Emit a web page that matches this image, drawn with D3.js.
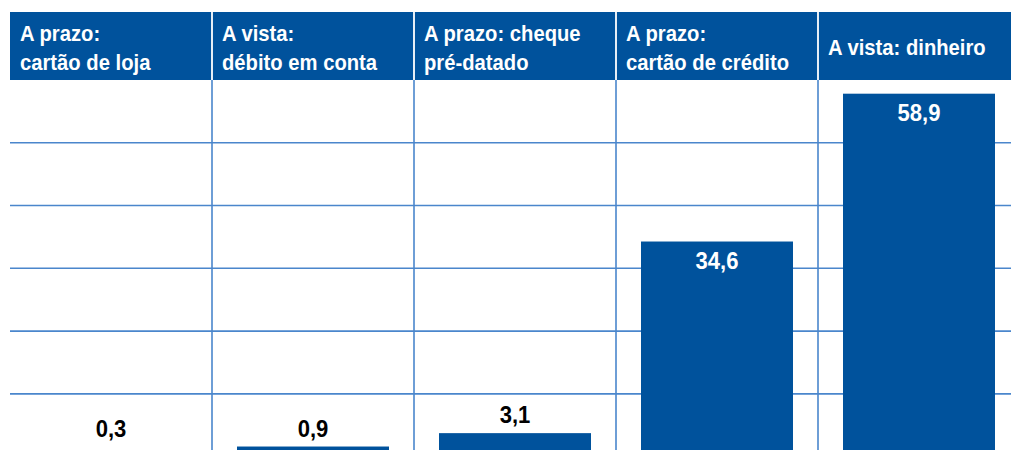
<!DOCTYPE html>
<html><head><meta charset="utf-8">
<script src="https://cdn.jsdelivr.net/npm/d3@7"></script>
<style>
html,body{margin:0;padding:0;background:#fff;}
svg{display:block;}
text{font-family:"Liberation Sans","Arial",sans-serif;font-weight:bold;}
</style></head>
<body>
<svg id="chart" width="1011" height="450"></svg>
<script>
const categories = ["A prazo:\ncartão de loja", "A vista:\ndébito em conta", "A prazo: cheque\npré-datado", "A prazo:\ncartão de crédito", "A vista: dinheiro"];
const values = [0.3, 0.9, 3.1, 34.6, 58.9];
const gridRows = [1, 2, 3, 4, 5];

const W = 1011, H = 450;
const left = 10, right = 1020;
const headTop = 12, headBottom = 80;
const blue = "#00529c", gridBlue = "#4a86cc";
const squeeze = 0.92;

const svg = d3.select("#chart");
const locale = d3.formatLocale({decimal: ",", thousands: ".", grouping: [3], currency: ["", ""]});
const fmt = locale.format(".1f");

const xCol = d3.scaleBand().domain(categories).range([left, right]);
const xBar = d3.scaleBand().domain(categories).range([left, right]).paddingInner(50/202).paddingOuter(25/202);
const y = d3.scaleLinear().domain([0, 60]).range([452, 87]);
const rows = d3.scaleLinear().domain([0, 6]).range([79.9, 456.7]);

// header
svg.append("rect").attr("x", left).attr("y", headTop).attr("width", right - left).attr("height", headBottom - headTop).attr("fill", blue);

// horizontal grid
svg.append("g").selectAll("line").data(gridRows).join("line")
  .attr("x1", left).attr("x2", W)
  .attr("y1", d => rows(d)).attr("y2", d => rows(d))
  .attr("stroke", gridBlue).attr("stroke-width", 1.6);

// vertical separators (plot)
svg.append("g").selectAll("line").data(categories.slice(1)).join("line")
  .attr("x1", d => xCol(d)).attr("x2", d => xCol(d))
  .attr("y1", headBottom).attr("y2", H)
  .attr("stroke", gridBlue).attr("stroke-width", 1.6);
// vertical separators (header)
svg.append("g").selectAll("line").data(categories.slice(1)).join("line")
  .attr("x1", d => xCol(d)).attr("x2", d => xCol(d))
  .attr("y1", headTop).attr("y2", headBottom)
  .attr("stroke", "#fff").attr("stroke-width", 1.8);

// header text
svg.append("g").selectAll("g").data(categories).join("g")
  .each(function(d){
    const lines = d.split("\n");
    const y0 = lines.length === 1 ? 55 : 41;
    lines.forEach((l, i) => d3.select(this).append("text")
      .attr("transform", `translate(${xCol(d) + 10},${y0 + i * 29}) scale(${squeeze},1)`)
      .attr("fill", "#fff").attr("font-size", 22)
      .text(l));
  });

// bars
const data = categories.map((c, i) => ({c, v: values[i]}));
svg.append("g").selectAll("rect").data(data).join("rect")
  .attr("x", d => xBar(d.c)).attr("width", xBar.bandwidth())
  .attr("y", d => y(d.v)).attr("height", d => Math.max(0, y(0) - y(d.v)))
  .attr("fill", blue);

// value labels
svg.append("g").selectAll("text").data(data).join("text")
  .attr("transform", d => {
    const tx = xBar(d.c) + xBar.bandwidth() / 2;
    const ty = d.v > 10 ? y(d.v) + 27 : Math.min(y(d.v), 447) - 10;
    return `translate(${tx},${ty}) scale(${squeeze},1)`;
  })
  .attr("text-anchor", "middle")
  .attr("font-size", 24)
  .attr("fill", d => d.v > 10 ? "#fff" : "#000")
  .text(d => fmt(d.v));
</script>
</body></html>
